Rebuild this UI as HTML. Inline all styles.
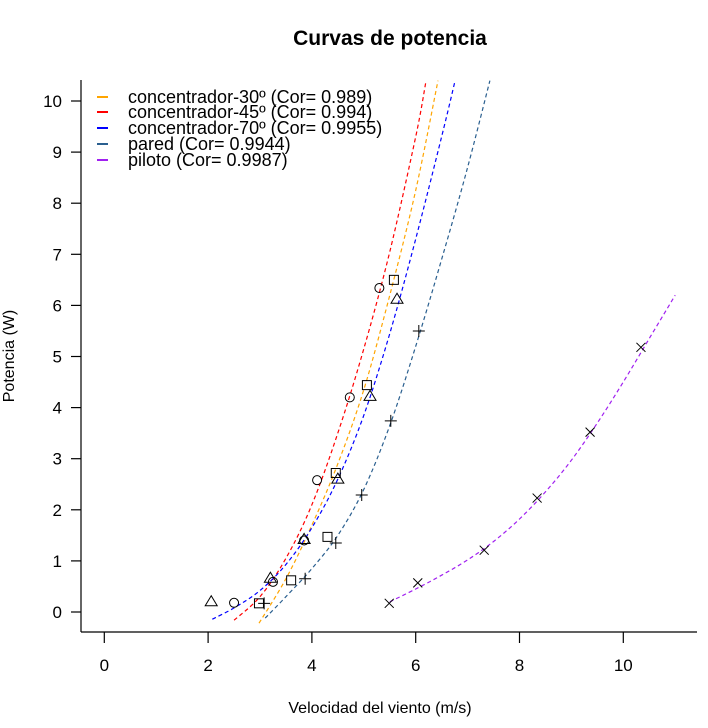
<!DOCTYPE html>
<html><head><meta charset="utf-8"><style>
body{margin:0;background:#fff;}
svg{display:block;font-family:"Liberation Sans",Arial,sans-serif;}
</style></head><body>
<svg id="chart" width="708" height="728" viewBox="0 0 708 728">
<text x="390" y="45" text-anchor="middle" font-size="21" font-weight="bold">Curvas de potencia</text>
<text x="380" y="713" text-anchor="middle" font-size="16">Velocidad del viento (m/s)</text>
<text transform="translate(14,356) rotate(-90)" text-anchor="middle" font-size="16">Potencia (W)</text>
<g id="axes"></g>
<g id="curves"></g>
<g id="points"></g>
<g id="legend"></g>
</svg>
<script>
const xTicks=[0,2,4,6,8,10];
const yTicks=[0,1,2,3,4,5,6,7,8,9,10];
const seriesNames=["concentrador-30º (Cor= 0.989)","concentrador-45º (Cor= 0.994)","concentrador-70º (Cor= 0.9955)","pared (Cor= 0.9944)","piloto (Cor= 0.9987)"];
// observed points
const c30X=[2.98,3.6,4.3,4.46,5.06,5.58];
const c30Y=[0.17,0.62,1.47,2.72,4.44,6.5];
const c45X=[2.5,3.25,3.85,4.1,4.73,5.3];
const c45Y=[0.18,0.59,1.4,2.58,4.2,6.34];
const c70X=[2.06,3.2,3.85,4.5,5.12,5.64];
const c70Y=[0.2,0.66,1.42,2.6,4.22,6.12];
const paredX=[3.08,3.87,4.46,4.96,5.52,6.06];
const paredY=[0.17,0.65,1.35,2.29,3.74,5.5];
const pilotoX=[5.49,6.04,7.32,8.34,9.36,10.34];
const pilotoY=[0.17,0.57,1.21,2.23,3.52,5.18];
// fitted curves (sampled)
const fit30X=[2.98,3.5,4.0,4.5,5.0,5.5,6.0,6.43];
const fit30Y=[-0.22,0.65,1.7,2.9,4.35,6.2,8.25,10.4];
const fit45X=[2.5,3.0,3.5,4.0,4.5,5.0,5.5,6.0,6.2];
const fit45Y=[-0.16,0.3,1.05,2.1,3.5,5.15,7.05,9.3,10.4];
const fit70X=[2.08,2.5,3.0,3.5,4.0,4.5,5.0,5.5,6.0,6.5,6.76];
const fit70Y=[-0.14,0.08,0.42,0.93,1.65,2.6,3.85,5.45,7.3,9.3,10.4];
const fitParedX=[3.1,3.5,4.0,4.5,5.0,5.5,6.0,6.5,7.0,7.43];
const fitParedY=[-0.12,0.3,0.85,1.5,2.4,3.65,5.2,6.9,8.7,10.4];
const fitPilotoX=[5.5,6,6.5,7,7.5,8,8.5,9,9.5,10,10.5,11];
const fitPilotoY=[0.2,0.45,0.72,1.02,1.38,1.82,2.35,2.97,3.7,4.5,5.35,6.2];

const colors=["#FFA500","#FF0000","#0000FF","#2A5F8F","#A020F0"];
const NS="http://www.w3.org/2000/svg";
const sx=v=>104.3+v*51.9;
const sy=v=>612-v*51.1;
function mk(tag,attrs,parent){const e=document.createElementNS(NS,tag);for(const k in attrs)e.setAttribute(k,attrs[k]);parent.appendChild(e);return e;}
function smoothPath(P){
 let d='M'+P[0][0].toFixed(1)+','+P[0][1].toFixed(1);
 for(let i=0;i<P.length-1;i++){
  const p0=P[Math.max(0,i-1)],p1=P[i],p2=P[i+1],p3=P[Math.min(P.length-1,i+2)];
  const c1=[p1[0]+(p2[0]-p0[0])/6,p1[1]+(p2[1]-p0[1])/6];
  const c2=[p2[0]-(p3[0]-p1[0])/6,p2[1]-(p3[1]-p1[1])/6];
  d+=`C${c1[0].toFixed(1)},${c1[1].toFixed(1)} ${c2[0].toFixed(1)},${c2[1].toFixed(1)} ${p2[0].toFixed(1)},${p2[1].toFixed(1)}`;
 }
 return d;
}
const axes=document.getElementById('axes');
let l=mk('line',{x1:81,y1:80,x2:81,y2:632,stroke:'#000','stroke-width':1.2},axes);


l=mk('line',{x1:81,y1:632,x2:697,y2:632,stroke:'#000','stroke-width':1.2},axes);


xTicks.forEach(t=>{
 const g=mk('line',{x1:sx(t),y1:632,x2:sx(t),y2:643,stroke:'#000','stroke-width':1.2},axes);
 
 
 const tx=mk('text',{x:sx(t),y:671,'text-anchor':'middle','font-size':17},axes);
 
 
 tx.textContent=t;
});
yTicks.forEach(t=>{
 const g=mk('line',{x1:71,y1:sy(t),x2:81,y2:sy(t),stroke:'#000','stroke-width':1.2},axes);
 
 
 const tx=mk('text',{x:62,y:sy(t)+6,'text-anchor':'end','font-size':17},axes);
 
 
 tx.textContent=t;
});
const curves=document.getElementById('curves');
const fits=[[fit30X,fit30Y],[fit45X,fit45Y],[fit70X,fit70Y],[fitParedX,fitParedY],[fitPilotoX,fitPilotoY]];
const curveNames=['curve-concentrador-30','curve-concentrador-45','curve-concentrador-70','curve-pared','curve-piloto'];
fits.forEach((f,i)=>{
 const P=f[0].map((x,j)=>[sx(x),sy(f[1][j])]);
 const p=mk('path',{d:smoothPath(P),fill:'none',stroke:colors[i],'stroke-width':1.2,'stroke-dasharray':'4,3'},curves);
 
 
});
const pg=document.getElementById('points');
function marker(type,x,y){
 const X=sx(x),Y=sy(y);let e;
 if(type==='sq')e=mk('rect',{x:X-4.5,y:Y-4.5,width:9,height:9,fill:'none',stroke:'#000','stroke-width':1},pg);
 else if(type==='ci')e=mk('circle',{cx:X,cy:Y,r:4.5,fill:'none',stroke:'#000','stroke-width':1},pg);
 else if(type==='tr')e=mk('polygon',{points:`${X},${Y-6} ${X-6},${Y+4} ${X+6},${Y+4}`,fill:'none',stroke:'#000','stroke-width':1},pg);
 else if(type==='pl')e=mk('path',{d:`M${X-6},${Y}H${X+6}M${X},${Y-6}V${Y+6}`,stroke:'#000','stroke-width':1},pg);
 else e=mk('path',{d:`M${X-4.5},${Y-4.5}L${X+4.5},${Y+4.5}M${X-4.5},${Y+4.5}L${X+4.5},${Y-4.5}`,stroke:'#000','stroke-width':1},pg);
 return e;
}
const sets=[['sq',c30X,c30Y,'point-concentrador-30'],['ci',c45X,c45Y,'point-concentrador-45'],['tr',c70X,c70Y,'point-concentrador-70'],['pl',paredX,paredY,'point-pared'],['x',pilotoX,pilotoY,'point-piloto']];
sets.forEach(s=>{s[1].forEach((x,j)=>{
 const e=marker(s[0],x,s[2][j]);
 
 
});});
const lg=document.getElementById('legend');
const legY=[101,116,132,148,164];
seriesNames.forEach((n,i)=>{
 const ln=mk('line',{x1:97,y1:legY[i]-4,x2:108,y2:legY[i]-4,stroke:colors[i],'stroke-width':2},lg);
 
 
 const t=mk('text',{x:128,y:legY[i]+2,'font-size':18},lg);
 
 
 t.textContent=n;
});
</script>
</body></html>
